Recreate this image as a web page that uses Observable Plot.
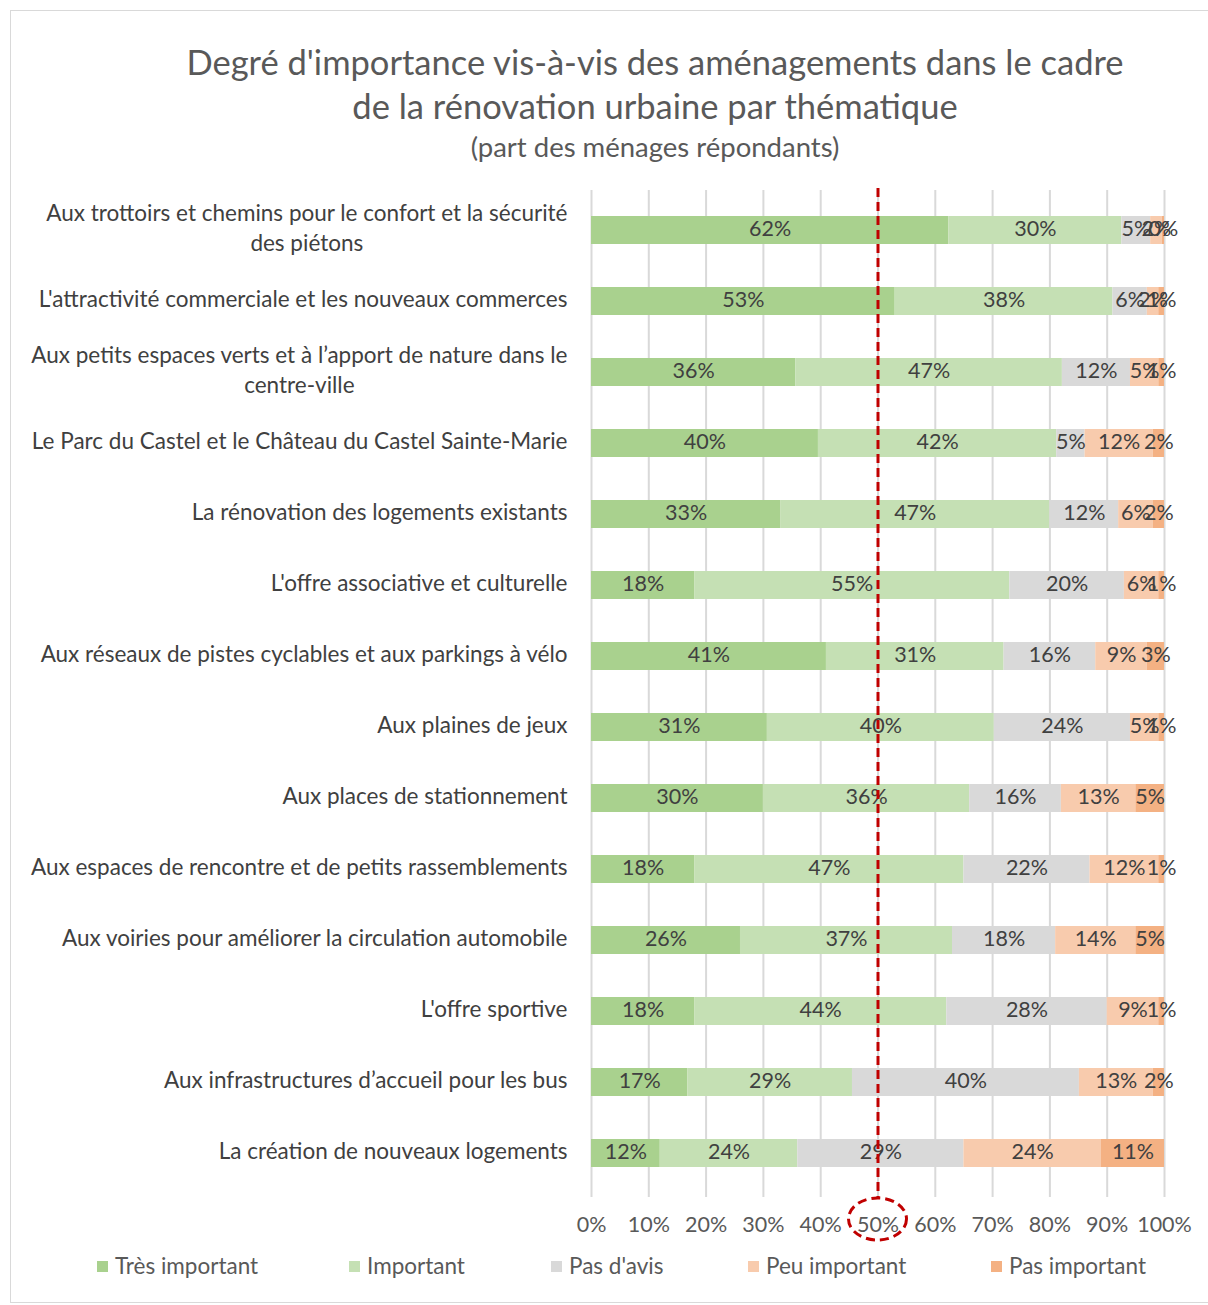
<!DOCTYPE html>
<html>
<head>
<meta charset="utf-8">
<script src="https://cdn.jsdelivr.net/npm/d3@7"></script>
<script src="https://cdn.jsdelivr.net/npm/@observablehq/plot@0.6"></script>
<style>
  html, body { margin: 0; padding: 0; background: #fff; }
  body { width: 1208px; height: 1305px; position: relative; overflow: hidden; font-family: Lato, "Open Sans", sans-serif; color: #595959; }
  #frame { position: absolute; left: 10px; top: 10px; width: 1220px; height: 1291px; border: 1px solid #d9d9d9; }
  #title { position: absolute; left: 0; width: 1310px; top: 40px; text-align: center; font-size: 34.5px; line-height: 44px; color: #595959; }
  #subtitle { position: absolute; left: 0; width: 1310px; top: 130px; text-align: center; font-size: 27.5px; color: #595959; }
  #chart { position: absolute; left: 0; top: 180px; }
  .leg { position: absolute; top: 1252px; font-size: 22.5px; color: #595959; white-space: nowrap; }
  .leg span.sw { display: inline-block; width: 11px; height: 11px; margin-right: 7px; vertical-align: 2px; }
</style>
</head>
<body>
<div id="frame"></div>
<div id="title">Degré d'importance vis-à-vis des aménagements dans le cadre<br>de la rénovation urbaine par thématique</div>
<div id="subtitle">(part des ménages répondants)</div>
<div id="chart"></div>
<div id="legend"></div>
<script>
const categories = [
  "Aux trottoirs et chemins pour le confort et la sécurité\ndes piétons",
  "L'attractivité commerciale et les nouveaux commerces",
  "Aux petits espaces verts et à l’apport de nature dans le\ncentre-ville",
  "Le Parc du Castel et le Château du Castel Sainte-Marie",
  "La rénovation des logements existants",
  "L'offre associative et culturelle",
  "Aux réseaux de pistes cyclables et aux parkings à vélo",
  "Aux plaines de jeux",
  "Aux places de stationnement",
  "Aux espaces de rencontre et de petits rassemblements",
  "Aux voiries pour améliorer la circulation automobile",
  "L'offre sportive",
  "Aux infrastructures d’accueil pour les bus",
  "La création de nouveaux logements"
];
const seriesNames = ["Très important", "Important", "Pas d'avis", "Peu important", "Pas important"];
const seriesColors = ["#a9d18e", "#c5e0b4", "#d9d9d9", "#f8cbad", "#f4b183"];
const tresImportant = [62, 53, 36, 40, 33, 18, 41, 31, 30, 18, 26, 18, 17, 12];
const important     = [30, 38, 47, 42, 47, 55, 31, 40, 36, 47, 37, 44, 29, 24];
const pasDavis      = [5, 6, 12, 5, 12, 20, 16, 24, 16, 22, 18, 28, 40, 29];
const peuImportant  = [2, 2, 5, 12, 6, 6, 9, 5, 13, 12, 14, 9, 13, 24];
const pasImportant  = [0.4, 1, 1, 2, 2, 1, 3, 1, 5, 1, 5, 1, 2, 11];
const xTicks = [0, 10, 20, 30, 40, 50, 60, 70, 80, 90, 100];
const threshold = 50;

const seriesValues = [tresImportant, important, pasDavis, peuImportant, pasImportant];
const data = [];
categories.forEach((c, i) => {
  seriesNames.forEach((s, j) => data.push({cat: c, series: s, value: seriesValues[j][i]}));
});

const stackOpts = {x: "value", y: "cat", z: "series", offset: "normalize", order: seriesNames};

const ellipseMark = (index, scales, values, dim) => {
  const cx = scales.x(threshold / 100);
  const cy = dim.height - dim.marginBottom + 25;
  return d3.create("svg:ellipse")
    .attr("cx", cx).attr("cy", cy).attr("rx", 29).attr("ry", 21)
    .attr("fill", "none").attr("stroke", "#c00000").attr("stroke-width", 3)
    .attr("stroke-dasharray", "9,5").node();
};

const chart = Plot.plot({
  width: 1208,
  height: 1070,
  marginLeft: 591,
  marginRight: 44,
  marginTop: 10,
  marginBottom: 56,
  style: {fontFamily: "Lato, 'Open Sans', sans-serif", fontSize: "21px", color: "#595959", background: "transparent"},
  x: {domain: [0, 1], axis: null},
  y: {domain: categories, paddingInner: 0.6, paddingOuter: 0.3, axis: null},
  color: {domain: seriesNames, range: seriesColors},
  marks: [
    Plot.ruleX(xTicks.map(d => d / 100), {stroke: "#d9d9d9", strokeWidth: 2, insetBottom: -3}),
    Plot.barX(data, Plot.stackX({...stackOpts, fill: "series"})),
    Plot.textX(data, Plot.stackX({...stackOpts, text: d => Math.round(d.value) + "%", fill: "#404040", fontSize: 21.5, dy: -1})),
    Plot.axisX({ticks: xTicks.map(d => d / 100), tickFormat: d => Math.round(d * 100) + "%", tickSize: 0, tickPadding: 22, fontSize: 21.5, color: "#595959", label: null}),
    Plot.axisY({tickSize: 0, tickPadding: 24, fontSize: 22.5, lineHeight: 1.33, color: "#404040", label: null, dy: -4}),
    Plot.ruleX([threshold / 100], {stroke: "#c00000", strokeWidth: 3, strokeDasharray: "9,5", insetTop: -2, insetBottom: -4}),
    ellipseMark
  ]
});
document.getElementById("chart").appendChild(chart);

// center multi-line y labels within their block, keeping the block right-aligned
d3.select(chart).selectAll("g[aria-label='y-axis tick label'] text").each(function() {
  const tspans = this.querySelectorAll("tspan");
  if (tspans.length > 1) {
    const w = this.getBBox().width;
    this.setAttribute("text-anchor", "middle");
    tspans.forEach(t => t.setAttribute("x", -w / 2));
  }
});

// legend
const legX = [97, 349, 551, 748, 991];
const leg = document.getElementById("legend");
seriesNames.forEach((s, i) => {
  const d = document.createElement("div");
  d.className = "leg";
  d.style.left = legX[i] + "px";
  d.innerHTML = `<span class="sw" style="background:${seriesColors[i]}"></span>${s}`;
  leg.appendChild(d);
});
</script>
</body>
</html>
